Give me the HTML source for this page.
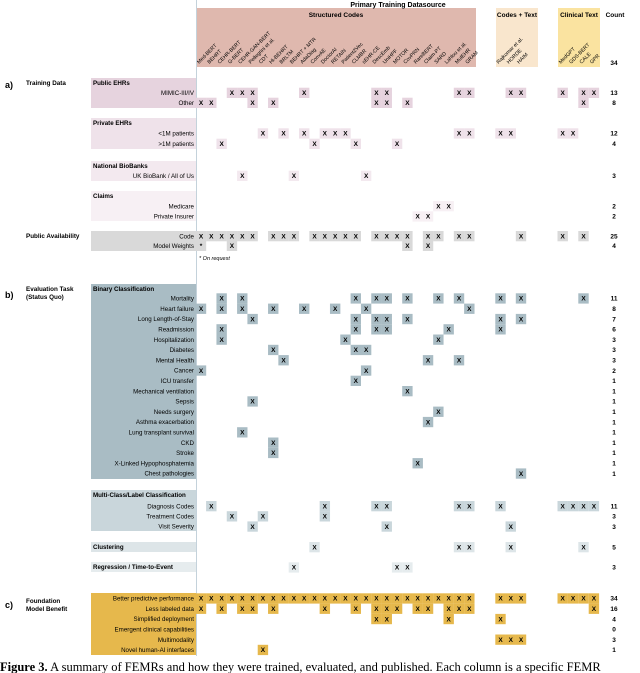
<!DOCTYPE html>
<html><head><meta charset="utf-8"><style>
html,body{margin:0;padding:0;background:#fff;}
svg{display:block;font-family:"Liberation Sans",sans-serif;}
</style></head><body>
<svg id="fig" width="640" height="673" viewBox="0 0 640 673" xmlns="http://www.w3.org/2000/svg"></svg>
<script>
const columnNames = ["Med-BERT","BEHRT","CEHR-BERT","G-BERT","CEHR-GAN-BERT","Pellegrini et al.","CDT","Hi-BEHRT","BRLTM","BEHRT + MTR","AdaDiag","ConvAE","DoctorAI","RETAIN","Patient2Vec","CLMBR","sEHR-CE","DescEmb","UniHPF","MOTOR","CovPRN","RareBERT","Claim-PT","SARD","Lahlou et al.","MulEHR","GRAM","Rajkomar et al.","HORDE","HAIM","MedGPT","GDS-BERT","CALE","GPR"];
const rowNames = ["MIMIC-III/IV","Other","<1M patients",">1M patients","UK BioBank / All of Us","Medicare","Private Insurer","Code","Model Weights",
"Mortality","Heart failure","Long Length-of-Stay","Readmission","Hospitalization","Diabetes","Mental Health","Cancer","ICU transfer","Mechanical ventilation","Sepsis","Needs surgery","Asthma exacerbation","Lung transplant survival","CKD","Stroke","X-Linked Hypophosphatemia","Chest pathologies",
"Diagnosis Codes","Treatment Codes","Visit Severity","","",
"Better predictive performance","Less labeled data","Simplified deployment","Emergent clinical capabilities","Multimodality","Novel human-AI interfaces"];
const rowMarks = [
[3,4,5,10,17,18,25,26,28,29,30,32,33],
[0,1,5,7,17,18,20,32],
[6,8,10,12,13,14,25,26,27,28,30,31],
[2,11,15,19],
[4,9,16],
[23,24],
[21,22],
[0,1,2,3,4,5,7,8,9,11,12,13,14,15,17,18,19,20,22,23,25,26,29,30,32],
[0,3,20,22],
[2,4,15,17,18,20,23,25,27,29,32],
[0,2,4,7,10,13,16,26],
[5,15,17,18,20,27,29],
[2,15,17,18,24,27],
[2,14,23],
[7,15,16],
[8,22,25],
[0,16],
[15],[20],[5],[23],[22],[4],[7],[7],[21],[29],
[1,12,17,18,25,26,27,30,31,32,33],
[3,6,12],
[5,18,28],
[11,25,26,28,32],
[9,19,20],
[0,1,2,3,4,5,6,7,8,9,10,11,12,13,14,15,16,17,18,19,20,21,22,23,24,25,26,27,28,29,30,31,32,33],
[0,2,4,5,7,12,15,17,18,19,21,22,24,25,26,33],
[17,18,24,27],
[],
[27,28,29],
[6]
];
const rowY = [92.7,102.7,133.3,143.7,175.7,206,216.3,236,245.7,
298.3,308.6,318.9,329.2,339.5,349.8,360.1,370.4,380.7,391,401.3,411.6,421.9,432.2,442.5,452.8,463.1,473.4,
506,516.2,526.4,547,567.3,598.3,608.6,618.9,629.2,639.5,649.8];
const rowColor = ["#e6d3de","#e6d3de","#efe2ea","#efe2ea","#f3e9ef","#f7f0f4","#f7f0f4","#d9d9d9","#d9d9d9"];
for(let i=9;i<27;i++) rowColor.push("#a9bcc4");
rowColor.push("#c9d6db","#c9d6db","#c9d6db","#dde5e8","#e6ecee");
for(let i=0;i<6;i++) rowColor.push("#e6b84c");
const countValues = rowMarks.map(m=>m.length);

const svg = document.getElementById('fig');
const NS="http://www.w3.org/2000/svg";
function colX(i){ return i<27 ? 201+10.32*i : (i<30 ? 500.5+10.25*(i-27) : 562.7+10.4*(i-30)); }
function mk(tag,attrs,text){const e=document.createElementNS(NS,tag);for(const k in attrs)e.setAttribute(k,attrs[k]);if(text!==undefined)e.textContent=text;svg.appendChild(e);return e;}

let e;
e=mk('rect',{x:197,y:8,width:279,height:59,fill:"#dfb8ae"});


e=mk('rect',{x:496,y:8,width:42,height:59,fill:"#f9e6cd"});


e=mk('rect',{x:558,y:8,width:42,height:59,fill:"#fae3a0"});


e=mk('text',{x:398,y:7,"font-size":7,"font-weight":"bold","text-anchor":"middle"},"Primary Training Datasource");


e=mk('text',{x:336,y:17,"font-size":6.5,"font-weight":"bold","text-anchor":"middle"},"Structured Codes");


e=mk('text',{x:517,y:17,"font-size":6.5,"font-weight":"bold","text-anchor":"middle"},"Codes + Text");


e=mk('text',{x:579,y:17,"font-size":6.5,"font-weight":"bold","text-anchor":"middle"},"Clinical Text");


e=mk('text',{x:615,y:17,"font-size":6.5,"font-weight":"bold","text-anchor":"middle"},"Count");


e=mk('text',{x:614,y:65,"font-size":6.5,"font-weight":"bold","text-anchor":"middle"},String(columnNames.length));



columnNames.forEach((n,i)=>{
  const x=colX(i)-2, y=64;
  const t=mk('text',{x:x,y:y,"font-size":5.2,"text-anchor":"start",transform:`rotate(-45 ${x} ${y})`},n);
  
  
});

const groups=[
 ["Public EHRs",78,108,"#e6d3de"],["Private EHRs",118,149,"#efe2ea"],["National BioBanks",161,181,"#f3e9ef"],["Claims",191,221,"#f7f0f4"],
 ["",231,251,"#d9d9d9"],["Binary Classification",284,479,"#a9bcc4"],["Multi-Class/Label Classification",490,531,"#c9d6db"],
 ["Clustering",542,552,"#dde5e8"],["Regression / Time-to-Event",562,572,"#e6ecee"],["",593,655,"#e6b84c"]];
groups.forEach(g=>{
  const r=mk('rect',{x:91,y:g[1],width:105,height:g[2]-g[1],fill:g[3]});
  
  
  if(g[0]){
    const t=mk('text',{x:93,y:g[1]+7,"font-size":6.2,"font-weight":"bold"},g[0]);
    
    
  }
});

e=mk('line',{x1:196.5,y1:0,x2:196.5,y2:656,stroke:"#c4d2db","stroke-width":1});



rowNames.forEach((n,r)=>{
  const y=rowY[r];
  if(n){
    const t=mk('text',{x:194,y:y+2.3,"font-size":6.2,"text-anchor":"end"},n);
    
    
  }
  rowMarks[r].forEach(c=>{
    const x=colX(c);
    const b=mk('rect',{x:x-5.2,y:y-5,width:10.4,height:10.3,fill:rowColor[r]});
    
    
    const star=(r===8&&c===0);
    const t=mk('text',{x:x,y:y+2.4,"font-size":6.5,"font-weight":"bold","text-anchor":"middle"},star?"*":"X");
    
    
  });
  const ct=mk('text',{x:614,y:y+2.4,"font-size":6.5,"font-weight":"bold","text-anchor":"middle"},String(countValues[r]));
  
  
});

e=mk('text',{x:199,y:260,"font-size":5.5,"font-style":"italic"},"* On request");



const secs=[["a)",5,88,9],["b)",5,298,9],["c)",5,608,9]];
secs.forEach(s=>{const t=mk('text',{x:s[1],y:s[2],"font-size":s[3],"font-weight":"bold"},s[0]);
 
 });
const slabels=[["Training Data",85],["Public Availability",238],["Evaluation Task",291],["(Status Quo)",299],["Foundation",603],["Model Benefit",611]];
slabels.forEach(s=>{const t=mk('text',{x:26,y:s[1],"font-size":6.3,"font-weight":"bold"},s[0]);
 
 });

const cap=mk('text',{x:0,y:671,"font-size":12.5,"font-family":"Liberation Serif, serif"});


const b1=document.createElementNS(NS,'tspan');b1.setAttribute('font-weight','bold');b1.textContent="Figure 3.";cap.appendChild(b1);
const b2=document.createElementNS(NS,'tspan');b2.textContent=" A summary of FEMRs and how they were trained, evaluated, and published. Each column is a specific FEMR";cap.appendChild(b2);
</script>
</body></html>
